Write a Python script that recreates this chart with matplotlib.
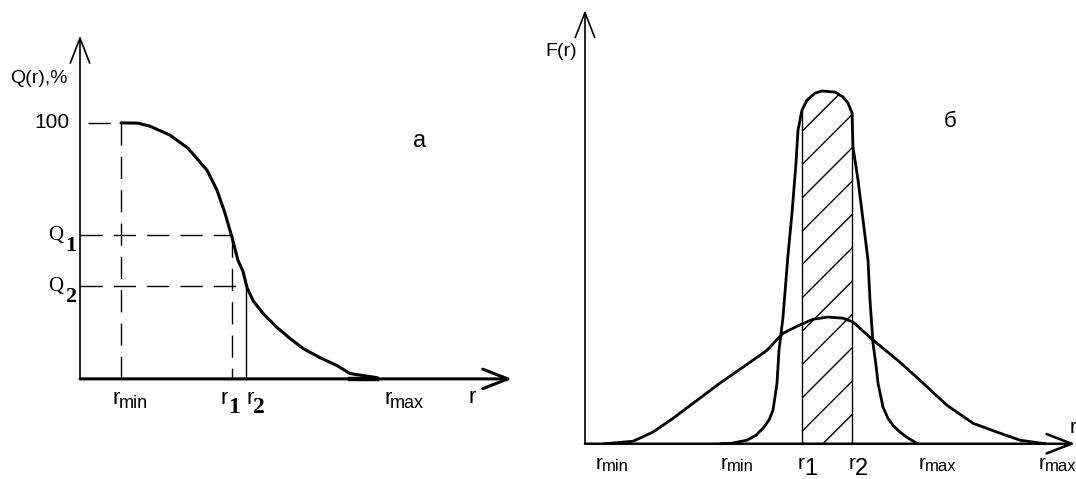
import numpy as np
import matplotlib
matplotlib.use("Agg")
import matplotlib.pyplot as plt

plt.rcParams['font.family'] = ['Liberation Sans', 'DejaVu Sans']

# ---- panel a: cumulative curve Q(r), % ----
r_a = [4.1, 5.8, 7.0, 9.0, 10.8, 12.7, 13.7, 14.5, 15.2, 15.8, 16.3, 16.7,
       17.3, 18.3, 19.7, 21.0, 22.3, 24.0, 25.7, 27.0, 28.3, 29.7]
q_a = [100, 99.9, 98.7, 95.2, 90.1, 81.5, 73.7, 64.7, 55.3, 46.3, 42.0, 35.7,
       30.6, 25.6, 20.1, 15.8, 11.9, 8.3, 5.2, 2.1, 1.3, 0.5]
r_min_a, r1_a, r2_a, r_max_a = 4.1, 15.2, 16.6, 30.0
q1, q2 = 56.1, 36.1

# ---- panel b: distribution curves F(r) ----
r_narrow = [13.6, 14.6, 16.2, 17.1, 17.8, 18.4, 18.8, 19.2, 19.4, 19.8, 20.3,
            20.7, 21.1, 21.3, 21.7, 22.2, 23.0, 23.7, 25.0, 25.8, 26.3, 26.7,
            26.8, 27.3, 27.8, 28.3, 28.5, 28.8, 29.1, 29.3, 29.8, 30.3, 30.8,
            31.5, 32.2, 33.2]
f_narrow = [0, 0.1, 1.0, 2.4, 4.4, 6.7, 9.5, 17.2, 26.5, 35.9, 53.5,
            65.4, 79.6, 88.9, 94.6, 97.4, 99.4, 100, 99.7, 98.3, 96.6, 93.8,
            84.1, 74.8, 63.5, 52.1, 40.7, 28.5, 22.3, 17.2, 10.4, 7.2, 5.2,
            3.3, 1.8, 0.1]
r_wide = [2.0, 4.8, 6.8, 8.8, 11.2, 13.5, 15.8, 18.2, 19.8, 21.2, 22.8, 24.3,
          25.8, 26.8, 28.8, 31.5, 33.8, 36.2, 38.8, 41.2, 43.5, 46.0]
f_wide = [0, 0.7, 3.3, 7.2, 12.3, 17.2, 21.7, 26.5, 31.3, 33.3, 35.3, 35.9,
          35.6, 34.5, 29.4, 23.1, 17.2, 10.9, 5.8, 3.3, 1.0, 0]
r1_b, r2_b = 21.7, 26.7
# where the r labels sit on the axis
lab_b_pos = [1.1, 13.6, 21.3, 26.4, 33.4, 45.4]
lab_b_sub = ['min', 'min', '1', '2', 'max', 'max']

PX = 0.72  # points per pixel at dpi 100


def lab(ax, x, y, s, dx, dy, **kw):
    # text anchored at a data point, shifted by pixels (dy > 0 is downwards)
    ax.annotate(s, (x, y), xytext=(dx * PX, -dy * PX), textcoords='offset points',
                annotation_clip=False, **kw)


def arrow(ax, x0, y0, x1, y1, lw):
    ax.annotate('', xy=(x1, y1), xytext=(x0, y0),
                arrowprops=dict(arrowstyle='->,head_length=0.9,head_width=0.35',
                                lw=lw, color='black', shrinkA=0, shrinkB=0,
                                mutation_scale=20))


fig = plt.figure(figsize=(10.76, 4.79), dpi=100)

# ================= panel a =================
ax1 = fig.add_axes([0, 0, 540 / 1076, 1])
ax1.set_xlim(-8, 46)
ax1.set_ylim(-39.1, 148.0)
ax1.axis('off')

arrow(ax1, 0, 0, 0, 134, 1.2)
arrow(ax1, 0, 0, 43.2, 0, 2.2)

dash = dict(color='black', lw=1.0, dashes=(16, 8))
ax1.plot([0.8, r_min_a], [100, 100], **dash)
ax1.plot([r_min_a, r_min_a], [100, 0], **dash)
ax1.plot([0, r1_a], [q1, q1], **dash)
ax1.plot([r1_a, r1_a], [q1, 0], **dash)
ax1.plot([0, r2_a], [q2, q2], **dash)
ax1.plot([r2_a, r2_a], [q2, 0], color='black', lw=1.0)

ax1.plot(r_a, q_a, color='black', lw=2.2, solid_joinstyle='round',
         solid_capstyle='round')
ax1.plot([r_a[-3], r_a[-1]], [0, 0], color='black', lw=3.2)

lab(ax1, 0, 134, 'Q(r),%', -41, 43, ha='center', va='center', fontsize=14)
lab(ax1, 0, 100, '100', -11, 0, ha='right', va='center', fontsize=15)
for qv, s in [(q1, '1'), (q2, '2')]:
    lab(ax1, 0, qv, 'Q', -17, 0, ha='right', va='center', fontsize=15,
        family='Liberation Serif')
    lab(ax1, 0, qv, s, -15, 11, ha='left', va='center', fontsize=16,
        family='Liberation Serif', weight='bold')
lab(ax1, 43.2, 0, 'r', -43, 24, ha='left', va='baseline', fontsize=16)
lab(ax1, 0, 100, 'а', 340, 18, ha='center', va='center', fontsize=17)

for xv, sub, dx in [(r_min_a, 'min', -8), (r_max_a, 'max', 4)]:
    lab(ax1, xv, 0, 'r', dx, 25, ha='left', va='baseline', fontsize=16)
    lab(ax1, xv, 0, sub, dx + 6, 29, ha='left', va='baseline', fontsize=13)
for xv, sub, dx in [(r1_a, '1', -11), (r2_a, '2', 0)]:
    lab(ax1, xv, 0, 'r', dx, 25, ha='left', va='baseline', fontsize=16)
    lab(ax1, xv, 0, sub, dx + 7, 34, ha='left', va='baseline', fontsize=17,
        family='Liberation Serif', weight='bold')

# ================= panel b =================
ax2 = fig.add_axes([540 / 1076, 0, 536 / 1076, 1])
ax2.set_xlim(-4.5, 49.1)
ax2.set_ylim(-10.0, 125.8)
ax2.axis('off')

arrow(ax2, 0, 0, 0, 122.9, 1.2)
arrow(ax2, 0, 0, 49.0, 0, 1.8)

# hatched band r1..r2 under the narrow peak
xs = np.array(r_narrow)
inside = (xs > r1_b) & (xs < r2_b)
band_x = np.concatenate([[r1_b], xs[inside], [r2_b]])
band_y = np.concatenate([[np.interp(r1_b, r_narrow, f_narrow)],
                         np.array(f_narrow)[inside],
                         [np.interp(r2_b, r_narrow, f_narrow)]])
ax2.fill_between(band_x, 0, band_y, facecolor='none', edgecolor='black',
                 hatch='/', lw=0)
ax2.plot([r1_b, r1_b], [0, band_y[0]], color='black', lw=1.0)
ax2.plot([r2_b, r2_b], [0, band_y[-1]], color='black', lw=1.0)

ax2.plot(r_narrow, f_narrow, color='black', lw=2.0, solid_joinstyle='round')
ax2.plot(r_wide, f_wide, color='black', lw=2.0, solid_joinstyle='round')

lab(ax2, 0, 122.9, 'F(r)', -24, 41, ha='center', va='center', fontsize=14)
lab(ax2, 0, 122.9, 'б', 365, 111, ha='center', va='center', fontsize=16)
lab(ax2, 49.0, 0, 'r', -5, -11, ha='left', va='baseline', fontsize=15)

for xv, sub in zip(lab_b_pos, lab_b_sub):
    lab(ax2, xv, 0, 'r', 0, 25, ha='left', va='baseline', fontsize=15)
    if sub in ('1', '2'):
        lab(ax2, xv, 0, sub, 6, 31, ha='left', va='baseline', fontsize=17)
    else:
        lab(ax2, xv, 0, sub, 6, 27, ha='left', va='baseline', fontsize=12)

fig.savefig('out.png', dpi=100, facecolor='white')
